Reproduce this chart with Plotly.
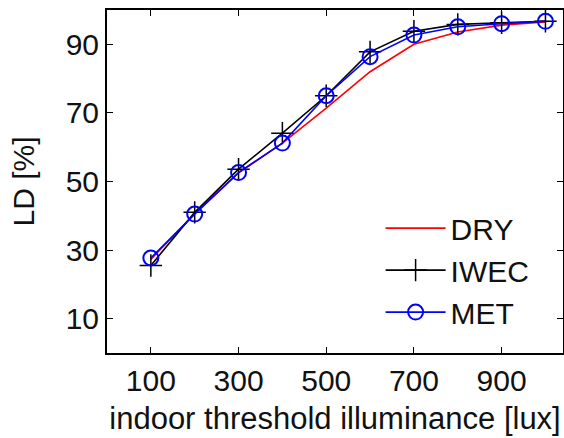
import plotly.graph_objects as go

x_lux = [100, 200, 300, 400, 500, 600, 700, 800, 900, 1000]
dry = [27.3, 40.6, 52.5, 61.2, 71.4, 82.0, 90.0, 93.6, 95.6, 96.5]
iwec = [25.5, 41.0, 53.6, 64.1, 75.0, 87.8, 93.8, 95.8, 96.3, 96.7]
met = [27.7, 40.5, 52.6, 61.2, 75.0, 86.4, 92.7, 95.1, 96.0, 96.7]

x_ticks = [100, 300, 500, 700, 900]
y_ticks = [10, 30, 50, 70, 90]

FONT = "Liberation Sans, Arial, sans-serif"

fig = go.Figure()
fig.add_trace(go.Scatter(x=x_lux, y=dry, name="DRY", mode="lines",
                         line=dict(color="#ff0000", width=1.6)))
fig.add_trace(go.Scatter(x=x_lux, y=iwec, name="IWEC", mode="lines+markers",
                         line=dict(color="#000000", width=1.6),
                         marker=dict(symbol="cross-thin-open", size=16,
                                     line=dict(color="#000000", width=1.5))))
fig.add_trace(go.Scatter(x=x_lux, y=met, name="MET", mode="lines+markers",
                         line=dict(color="#0000ff", width=1.6),
                         marker=dict(symbol="circle-open", size=15,
                                     line=dict(color="#0000ff", width=2))))

axis_common = dict(showgrid=False, zeroline=False, showline=True, linecolor="black",
                   linewidth=2, mirror="ticks", ticks="inside", ticklen=6,
                   tickwidth=1, tickcolor="black", automargin=False,
                   tickfont=dict(family=FONT, size=30, color="#111"))

fig.update_xaxes(range=[0, 1040], tickvals=x_ticks,
                 title=dict(text="indoor threshold illuminance [lux]",
                            font=dict(family=FONT, size=31, color="#111"), standoff=11),
                 **axis_common)
fig.update_yaxes(range=[0, 100], tickvals=y_ticks,
                 title=dict(text="LD [%]", font=dict(family=FONT, size=30, color="#111"),
                            standoff=22),
                 **axis_common)

fig.update_layout(
    width=564, height=438,
    margin=dict(l=107, r=1, t=10, b=85),
    paper_bgcolor="white", plot_bgcolor="white",
    showlegend=True,
    legend=dict(x=0.60, y=0.44, xanchor="left", yanchor="top",
                bgcolor="rgba(0,0,0,0)", borderwidth=0,
                font=dict(family=FONT, size=30, color="#111"),
                tracegroupgap=0, itemwidth=60),
)

fig.write_html("out.html", config={"displayModeBar": False},
               post_script="document.body.style.margin='0';document.body.style.padding='0';")
